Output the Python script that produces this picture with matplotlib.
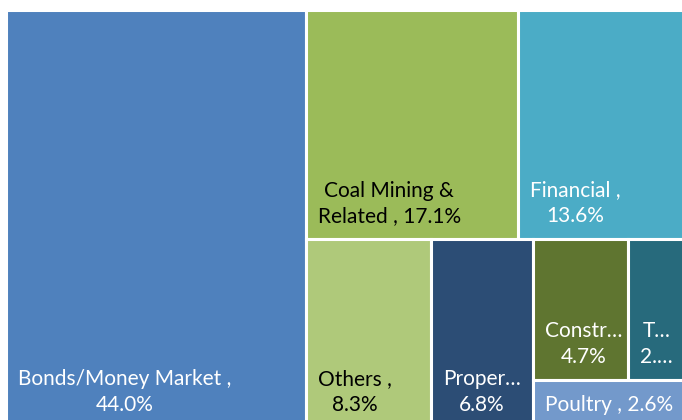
import matplotlib.pyplot as plt
from matplotlib.patches import Rectangle

plt.rcParams['font.family'] = ['Lato', 'DejaVu Sans']

# sector shares (%)
values = [44.0, 17.1, 13.6, 8.3, 6.8, 4.7, 2.9, 2.6]
labels = ['Bonds/Money Market ,\n44.0%', 'Coal Mining &\nRelated , 17.1%',
          'Financial ,\n13.6%', 'Others ,\n8.3%', 'Proper\u2026\n6.8%',
          'Constr\u2026\n4.7%', 'T\u2026\n2.\u2026', 'Poultry , 2.6%']
colors = ['#4F81BD', '#9BBB59', '#4BACC6', '#AFC97A', '#2C4D75',
          '#5F7530', '#276A7C', '#7399CB']
text_colors = ['white', 'black', 'white', 'black', 'white', 'white', 'white', 'white']

# how the cells are split: 'h' = side by side, 'v' = stacked
tree = ('h', [0, ('v', [('h', [1, 2]),
                        ('h', [3, 4, ('v', [('h', [5, 6]), 7])])])])


def total(node):
    if isinstance(node, int):
        return values[node]
    return sum(total(k) for k in node[1])


def layout(node, x, y, w, h, out):
    if isinstance(node, int):
        out[node] = (x, y, w, h)
        return
    d, kids = node
    tot = total(node)
    for k in kids:
        f = total(k) / tot
        if d == 'h':
            layout(k, x, y, w * f, h, out)
            x += w * f
        else:
            layout(k, x, y, w, h * f, out)
            y += h * f


rects = {}
layout(tree, 6, 10, 681, 418, rects)

fig = plt.figure(figsize=(6.82, 4.2), dpi=100)
ax = fig.add_axes([0, 0, 1, 1])
ax.set_xlim(0, 682)
ax.set_ylim(420, 0)
ax.axis('off')

for i in range(len(values)):
    x, y, w, h = rects[i]
    ax.add_patch(Rectangle((x, y), w, h, facecolor=colors[i],
                           edgecolor='white', linewidth=2.2))
    ax.text(x + 12, y + h - 13, labels[i], color=text_colors[i],
            fontsize=15, ha='left', va='bottom', multialignment='center',
            linespacing=1.35, clip_on=True)

fig.savefig('out.png', dpi=100)
